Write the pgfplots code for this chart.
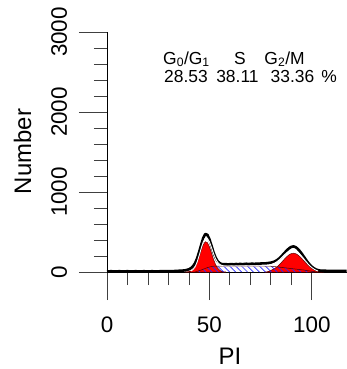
\documentclass[border=0pt]{standalone}
\usepackage{fontspec}
\setmainfont{Liberation Sans}
\usepackage{pgfplots}
\usepackage{pgfplotstable}
\pgfplotsset{compat=1.18}
\usetikzlibrary{patterns.meta}

% measured histogram (black)
\pgfplotstableread{
x y
0 8
2 9
4 8
6 9
8 8
10 9
12 8
14 9
16 8
18 9
20 8
22 9
24 8
26 9
28 9
30 10
32 10
33 12
34 14
35 15
36 16
37 18
38 20
39 26
40 34
41 48
42 72
43 110
44 170
45 250
46 340
47 425
48 475
49 465
50 410
51 330
52 245
53 180
54 135
55 110
56 100
57 96
58 98
59 94
60 97
61 99
62 95
63 100
64 97
65 101
66 98
67 100
68 103
69 99
70 102
71 104
72 101
73 105
74 103
75 106
76 108
77 107
78 110
79 113
80 117
81 123
82 133
83 148
84 168
85 192
86 220
87 248
88 275
89 298
90 314
91 320
92 312
93 293
94 265
95 232
96 195
97 158
98 122
99 92
100 66
101 46
102 32
103 23
104 18
105 16
107 15
109 14
111 15
113 14
115 14
117 14
}\hist

% G0/G1 component
\pgfplotstableread{
x y
38 0
39 2
40 5
41 13
42 30
43 63
44 116
45 190
46 271
47 341
48 378
49 368
50 316
51 239
52 158
53 93
54 48
55 22
56 9
57 3
58 0
}\gone

% G2/M component
\pgfplotstableread{
x y
77 0
78 2
79 8
80 21
81 32
82 46
83 65
84 88
85 114
86 143
87 171
88 196
89 217
90 230
91 235
92 230
93 217
94 196
95 171
96 143
97 114
98 88
99 65
100 46
101 32
102 21
103 13
104 6
105 0
}\gtwo

% S phase component
\pgfplotstableread{
x y
43 0
44 8
45 17
46 25
47 35
48 45
49 55
50 62
51 68
52 72
54 73
60 73
70 73
80 72
81 70
82 67
83 64
84 61
85 58
86 55
87 52
88 49
89 46
90 43
91 40
92 37
93 34
94 31
95 28
96 25
97 21
98 17
99 13
100 9
101 5
102 2
103 0
}\sph

% sum of fit
\pgfplotstableread{
x y
41 13
42 30
43 63
44 124
45 207
46 296
47 376
48 423
49 423
50 378
51 307
52 230
53 166
54 121
55 95
56 82
57 76
58 75
65 75
75 75
79 82
80 93
81 102
82 113
83 129
84 149
85 172
86 198
87 223
88 245
89 263
90 273
91 275
92 267
93 251
94 227
95 199
96 168
97 135
98 105
99 78
100 55
101 37
102 23
103 13
}\fitsum

\begin{document}
\begin{tikzpicture}
\begin{axis}[
  x=2.048bp, y=0.08bp,
  xmin=0, xmax=117.2, ymin=0, ymax=3000,
  axis lines*=left,
  axis line style={black, line width=0.8bp},
  tick align=outside,
  major tick length=28bp, minor tick length=13bp,
  xtick={0,50,100}, ytick={0,1000,2000,3000},
  minor x tick num=4, minor y tick num=4,
  every tick/.style={black!75, line width=0.8bp},
  /pgf/number format/assume math mode=true,
  /pgf/number format/set thousands separator={},
  ticklabel style={font=\fontsize{22.5}{26}\selectfont},
  yticklabel style={xshift=-12bp, rotate=90, anchor=base},
  xticklabel style={yshift=-32.7bp, anchor=base},
  xlabel={PI}, ylabel={Number},
  label style={font=\fontsize{24}{28}\selectfont},
  xlabel style={at={(axis description cs:0.512,-0.385)}, anchor=base},
  ylabel style={at={(axis description cs:-0.316,0.502)}, anchor=base},
  clip=false,
]
\addplot[fill=red, draw=black!60!red, line width=0.5bp] table {\gone} \closedcycle;
\addplot[fill=red, draw=black!60!red, line width=0.5bp] table {\gtwo} \closedcycle;
\addplot[draw=none, pattern={Lines[angle=-45, distance=4.2bp, line width=0.7bp]}, pattern color={rgb,255:red,40;green,40;blue,255}] table {\sph} \closedcycle;
\addplot[black!70!red, line width=0.5bp] table {\sph};
\addplot[black, line width=2.6bp, line join=round] table {\hist};
\addplot[white, line width=0.9bp] table {\fitsum};
\node[anchor=base, font=\fontsize{17.5}{20}\selectfont] at (axis cs:38.8,2600) {G\textsubscript{0}/G\textsubscript{1}};
\node[anchor=base, font=\fontsize{17.5}{20}\selectfont] at (axis cs:64.9,2600) {S};
\node[anchor=base, font=\fontsize{17.5}{20}\selectfont] at (axis cs:86.7,2600) {G\textsubscript{2}/M};
\node[anchor=base, font=\fontsize{17.5}{20}\selectfont] at (axis cs:38.6,2371) {28.53};
\node[anchor=base, font=\fontsize{17.5}{20}\selectfont] at (axis cs:63.7,2371) {38.11};
\node[anchor=base, font=\fontsize{17.5}{20}\selectfont] at (axis cs:90.6,2371) {33.36};
\node[anchor=base, font=\fontsize{17.5}{20}\selectfont] at (axis cs:108.4,2371) {\%};
\end{axis}
\pgfresetboundingbox
\path[use as bounding box] (-107bp,-97bp) rectangle (240bp,272bp);
\end{tikzpicture}
\end{document}
